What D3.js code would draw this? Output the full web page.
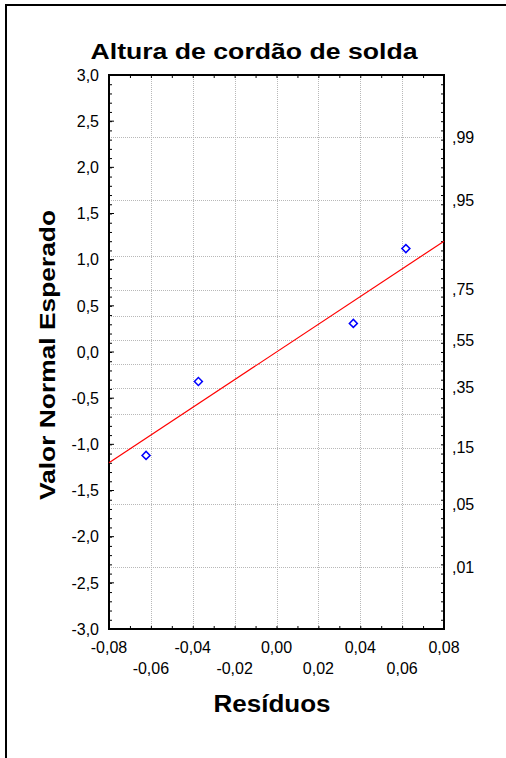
<!DOCTYPE html>
<html><head><meta charset="utf-8">
<script src="https://cdn.jsdelivr.net/npm/d3@7"></script>
<style>
html,body{margin:0;padding:0;background:#fff;}
svg{display:block;font-family:"Liberation Sans",Arial,sans-serif;}
</style></head>
<body>
<svg id="c" width="506" height="758"></svg>
<script>
// ---- data ----
const title = "Altura de cordão de solda";
const xTitle = "Resíduos";
const yTitle = "Valor Normal Esperado";
const residuals = [-0.0623, -0.0373, 0.0367, 0.0618];
const expectedNormal = [-1.12, -0.32, 0.31, 1.12];
const fitX = [-0.08, 0.08];
const fitY = [-1.2, 1.2];
const xTicksRow1 = [-0.08, -0.04, 0.00, 0.04, 0.08];
const xTicksRow2 = [-0.06, -0.02, 0.02, 0.06];
const yTickValues = [3.0, 2.5, 2.0, 1.5, 1.0, 0.5, 0.0, -0.5, -1.0, -1.5, -2.0, -2.5, -3.0];
const probGrid = [0.01, 0.05, 0.15, 0.25, 0.35, 0.45, 0.55, 0.65, 0.75, 0.85, 0.95, 0.99];
const probLabels = [0.99, 0.95, 0.75, 0.55, 0.35, 0.15, 0.05, 0.01];

// inverse normal CDF (Acklam) for the probability axis
function invNorm(p){
  const a=[-3.969683028665376e+01,2.209460984245205e+02,-2.759285104469687e+02,1.383577518672690e+02,-3.066479806614716e+01,2.506628277459239e+00];
  const b=[-5.447609879822406e+01,1.615858368580409e+02,-1.556989798598866e+02,6.680131188771972e+01,-1.328068155288572e+01];
  const c=[-7.784894002430293e-03,-3.223964580411365e-01,-2.400758277161838e+00,-2.549671010288670e+00,4.374664141464968e+00,2.938163982698783e+00];
  const d=[7.784695709041462e-03,3.224671290700398e-01,2.445134137142996e+00,3.754408661907416e+00];
  const pl=0.02425, ph=1-pl;
  let q,r;
  if(p<pl){q=Math.sqrt(-2*Math.log(p));return (((((c[0]*q+c[1])*q+c[2])*q+c[3])*q+c[4])*q+c[5])/((((d[0]*q+d[1])*q+d[2])*q+d[3])*q+1);}
  if(p<=ph){q=p-0.5;r=q*q;return (((((a[0]*r+a[1])*r+a[2])*r+a[3])*r+a[4])*r+a[5])*q/(((((b[0]*r+b[1])*r+b[2])*r+b[3])*r+b[4])*r+1);}
  q=Math.sqrt(-2*Math.log(1-p));return -(((((c[0]*q+c[1])*q+c[2])*q+c[3])*q+c[4])*q+c[5])/((((d[0]*q+d[1])*q+d[2])*q+d[3])*q+1);
}

const svg = d3.select("#c");
const L=109, R=444, T=75, B=629;
const x = d3.scaleLinear().domain([-0.08,0.08]).range([L,R]);
const y = d3.scaleLinear().domain([-3,3]).range([B,T]);
const fmt = v => d3.format(".2f")(v).replace(".", ",").replace("\u2212","-");
const fmtY = v => d3.format(".1f")(v).replace(".", ",").replace("\u2212","-");
const fmtP = v => d3.format(".2f")(v).replace("0.", ",");

// outer frame (top & left)
svg.append("rect").attr("x",5).attr("y",4).attr("width",501).attr("height",2).attr("fill","#000");
svg.append("rect").attr("x",5).attr("y",4).attr("width",2).attr("height",754).attr("fill","#000");

// grid
const grid = svg.append("g").attr("stroke","#b8b8b8").attr("stroke-width",1).attr("stroke-dasharray","1,1");
grid.selectAll("line.v").data(d3.range(-0.06,0.0601,0.02)).enter().append("line")
  .attr("x1",d=>Math.round(x(d))+0.5).attr("x2",d=>Math.round(x(d))+0.5).attr("y1",T).attr("y2",B);
grid.selectAll("line.h").data(probGrid).enter().append("line")
  .attr("y1",d=>Math.round(y(invNorm(d)))+0.5).attr("y2",d=>Math.round(y(invNorm(d)))+0.5).attr("x1",L).attr("x2",R);

// axes with inward ticks
const minorY = d3.range(-30,31).map(i=>i/10);
const minorX = d3.range(-8,9).map(i=>i/100);
const axL = d3.axisRight(y).tickValues(minorY).tickSize(3).tickFormat("");
const axR = d3.axisLeft(y).tickValues(minorY).tickSize(3).tickFormat("");
const axT = d3.axisBottom(x).tickValues(minorX).tickSize(3).tickFormat("");
const axB = d3.axisTop(x).tickValues(minorX).tickSize(3).tickFormat("");
[[axL,`translate(${L},0)`],[axR,`translate(${R},0)`],[axT,`translate(0,${T})`],[axB,`translate(0,${B})`]].forEach(([a,t])=>{
  const g = svg.append("g").attr("transform",t).call(a);
  g.select(".domain").remove();
  g.selectAll("line").attr("stroke","#000").attr("stroke-width",1);
});
// major y ticks longer
svg.append("g").selectAll("line").data(yTickValues).enter().append("line")
  .attr("x1",L).attr("x2",L+5).attr("y1",d=>y(d)).attr("y2",d=>y(d)).attr("stroke","#000");
svg.append("rect").attr("x",L).attr("y",T).attr("width",R-L).attr("height",B-T)
  .attr("fill","none").attr("stroke","#000").attr("stroke-width",2);

// tick labels
svg.append("g").selectAll("text").data(yTickValues).enter().append("text")
  .attr("x",99).attr("y",d=>y(d)).attr("dy","0.36em").attr("text-anchor","end")
  .attr("font-size",16).text(fmtY);
svg.append("g").selectAll("text").data(probLabels).enter().append("text")
  .attr("x",452).attr("y",d=>y(invNorm(d))).attr("dy","0.36em").attr("text-anchor","start")
  .attr("font-size",16).text(fmtP);
svg.append("g").selectAll("text").data(xTicksRow1).enter().append("text")
  .attr("x",d=>x(d)).attr("y",653).attr("text-anchor","middle").attr("font-size",16).text(fmt);
svg.append("g").selectAll("text").data(xTicksRow2).enter().append("text")
  .attr("x",d=>x(d)).attr("y",674).attr("text-anchor","middle").attr("font-size",16).text(fmt);

// fit line
svg.append("path").datum(fitX.map((v,i)=>[v,fitY[i]]))
  .attr("d",d3.line().x(d=>x(d[0])).y(d=>y(d[1])))
  .attr("stroke","#ff0000").attr("stroke-width",1.2).attr("fill","none");

// points (hollow diamonds)
svg.append("g").selectAll("path").data(residuals.map((v,i)=>[v,expectedNormal[i]])).enter().append("path")
  .attr("d",d3.symbol().type(d3.symbolSquare).size(32))
  .attr("transform",d=>`translate(${x(d[0])},${y(d[1])}) rotate(45)`)
  .attr("fill","none").attr("stroke","#0000ff").attr("stroke-width",1.5);

// titles
svg.append("text").attr("x",254).attr("y",59).attr("text-anchor","middle")
  .attr("font-size",22).attr("font-weight","bold")
  .attr("textLength",327).attr("lengthAdjust","spacingAndGlyphs").text(title);
svg.append("text").attr("x",272).attr("y",712).attr("text-anchor","middle")
  .attr("font-size",23).attr("font-weight","bold")
  .attr("textLength",117).attr("lengthAdjust","spacingAndGlyphs").text(xTitle);
svg.append("text").attr("transform","translate(55,355) rotate(-90)").attr("text-anchor","middle")
  .attr("font-size",22).attr("font-weight","bold")
  .attr("textLength",290).attr("lengthAdjust","spacingAndGlyphs").text(yTitle);
</script>
</body></html>
